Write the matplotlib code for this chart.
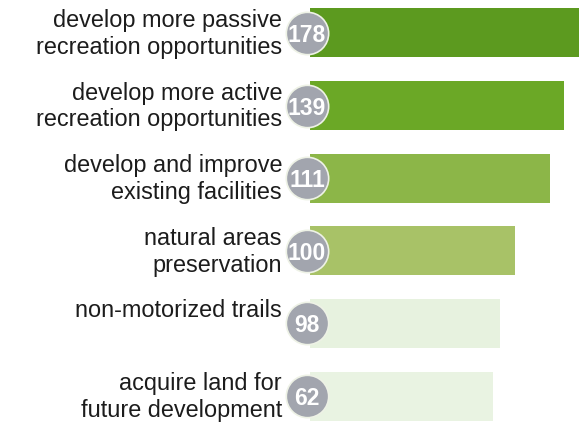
import matplotlib.pyplot as plt

# categories, survey counts and drawn bar lengths (pixels)
labels = ['develop more passive\nrecreation opportunities',
          'develop more active\nrecreation opportunities',
          'develop and improve\nexisting facilities',
          'natural areas\npreservation',
          'non-motorized trails',
          'acquire land for\nfuture development']
counts = [178, 139, 111, 100, 98, 62]
bar_len = [275, 254, 240, 205, 190, 183]
colors = ['#5c9a1f', '#6ba826', '#8cb648', '#a8c267', '#e7f2df', '#e9f3e2']
label_dy = [0, 0, 0, 0, -0.19, 0]

fig = plt.figure(figsize=(5.79, 4.27), dpi=100)
ax = fig.add_axes([0, 0, 1, 1])
ax.set_xlim(-310, 269)
ax.set_ylim(5.413, -0.468)
ax.axis('off')

ypos = list(range(len(counts)))
ax.barh(ypos, bar_len, height=0.675, left=0, color=colors, edgecolor='none')

ax.scatter([-3] * len(ypos), ypos, s=930, color='#a2a5ae',
           edgecolor='#eef2e6', linewidth=1.2, zorder=3)
for y, c in zip(ypos, counts):
    ax.text(-3, y + 0.02, str(c), ha='center', va='center', color='white',
            fontsize=16.5, fontweight='bold', family='Liberation Sans', zorder=4)

for y, lab, dy in zip(ypos, labels, label_dy):
    ax.text(-28, y + dy, lab, ha='right', va='center', color='#1c1c1c',
            fontsize=16.9, family='Liberation Sans', linespacing=1.2)

fig.savefig('out.png', dpi=100, facecolor='white')
